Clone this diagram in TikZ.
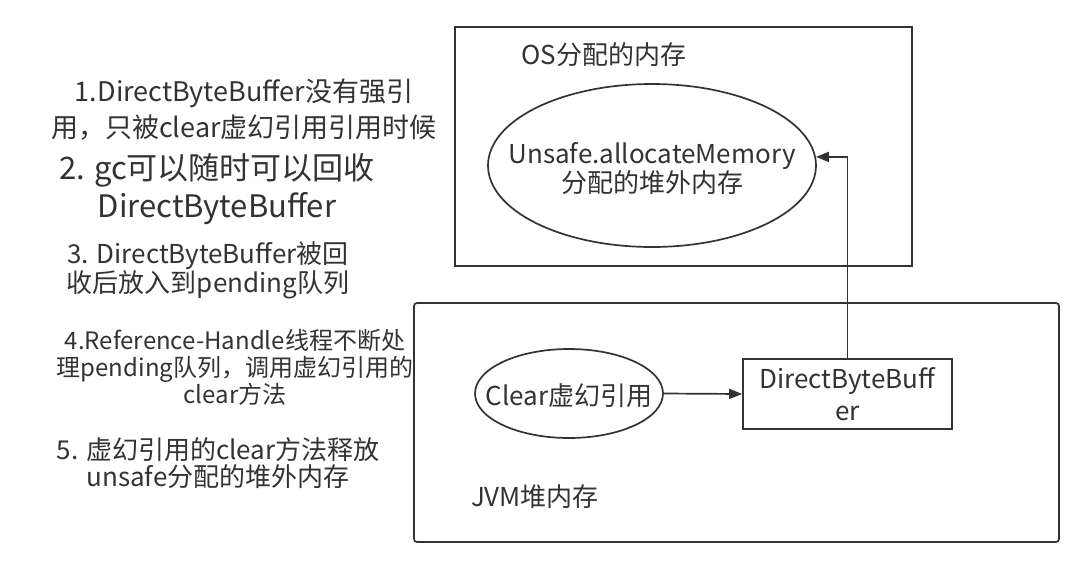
\documentclass[tikz,border=0pt]{standalone}
\usepackage{fontspec}
\setmainfont{Noto Sans CJK SC}
\usetikzlibrary{shapes.geometric,arrows.meta}
\definecolor{ink}{HTML}{333333}
\newcommand{\fs}[2]{\fontsize{#1}{#2}\selectfont}

\begin{document}
\begin{tikzpicture}[x=1pt,y=-1pt,line width=1.7pt,color=ink,
    box/.style={draw,rectangle,inner sep=0pt,line width=1.7pt},
    oval/.style={draw,ellipse,inner sep=0pt,line width=1.7pt},
    note/.style={align=center,inner sep=0pt},
    arr/.style={line width=1.7pt,-{Triangle[length=13pt,width=10pt]}}]
            % 画布
            \useasboundingbox (0,0) rectangle (1084,568);
            \fill[white] (0,0) rectangle (1084,568);
            % 左侧说明
            \node[note,font=\fs{27}{36}] (s1) at (244,110) {1.DirectByteBuffer没有强引\\用，只被clear虚幻引用引用时候};
            \node[note,font=\fs{31}{38}] (s2) at (217,189) {2. gc可以随时可以回收\\DirectByteBuffer};
            \node[note,font=\fs{26}{27}] (s3) at (208,270) {3. DirectByteBuffer被回\\收后放入到pending队列};
            \node[note,font=\fs{24}{27}] (s4) at (235,367) {4.Reference-Handle线程不断处\\理pending队列，调用虚幻引用的\\clear方法};
            \node[note,font=\fs{26}{27}] (s5) at (218,463) {5. 虚幻引用的clear方法释放\\unsafe分配的堆外内存};
            % OS分配的内存
            \node[box,minimum width=457pt,minimum height=239pt] (os) at (683.5,146.5) {};
            \node[note,font=\fs{26}{28}] (oslab) at (604,55) {OS分配的内存};
            \node[oval,minimum width=328pt,minimum height=163pt] (mem) at (652,165.5) {};
            \node[note,font=\fs{26}{28}] (memtxt) at (652,169) {Unsafe.allocateMemory\\分配的堆外内存};
            % JVM堆内存
            \node[box,rounded corners=3pt,minimum width=645pt,minimum height=239pt] (jvm) at (736.5,422.5) {};
            \node[note,font=\fs{26}{28}] (jvmlab) at (535,497) {JVM堆内存};
            \node[oval,minimum width=188pt,minimum height=89pt] (clr) at (569,393.5) {};
            \node[note,font=\fs{26}{28}] (clrtxt) at (569,396) {Clear虚幻引用};
            \node[box,align=center,font=\fs{26}{32},minimum width=209pt,minimum height=70pt] (dbb) at (847.5,394) {DirectByteBuff\\er};
            % 箭头
            \draw[arr] (clr.east) -- (dbb.west);
            \draw[arr] (dbb.north) |- (mem.3);
\end{tikzpicture}
\end{document}
